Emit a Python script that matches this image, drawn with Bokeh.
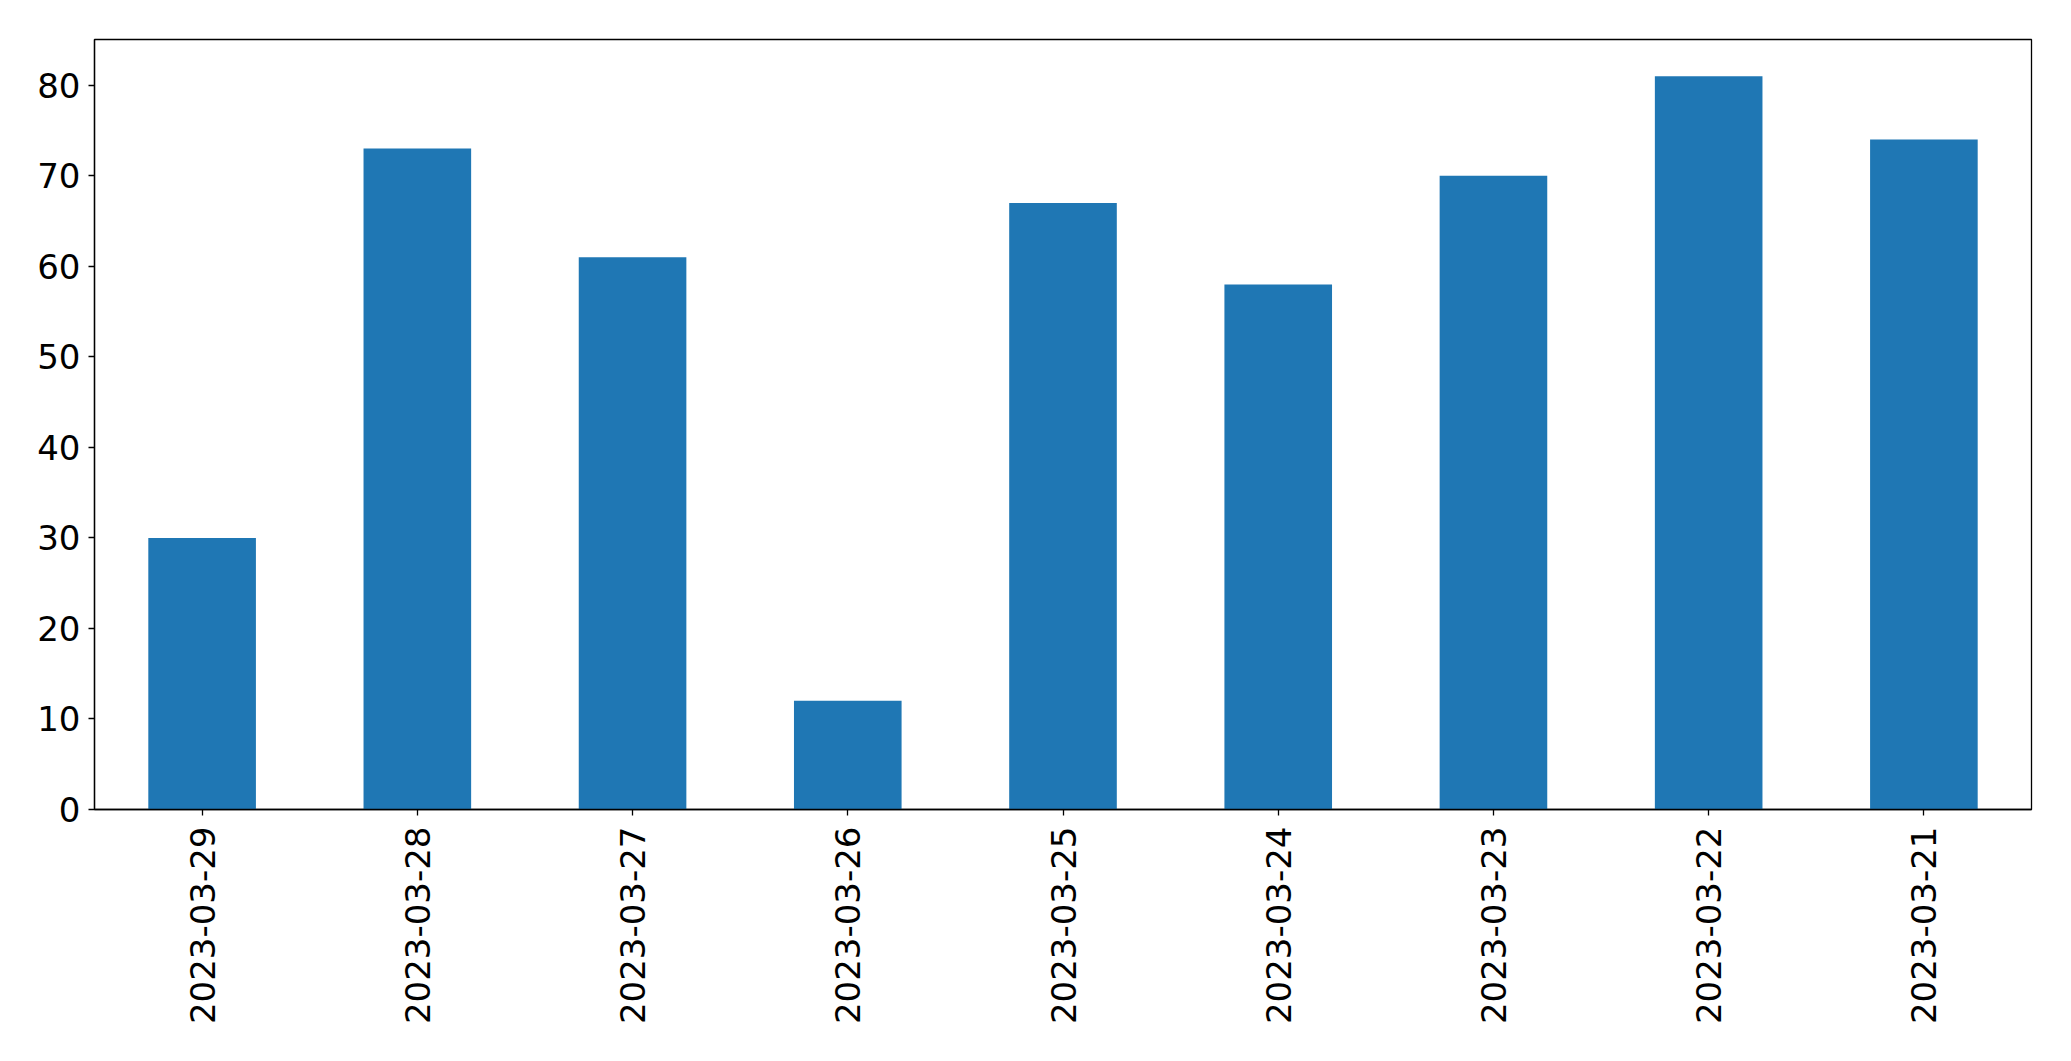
import math
from bokeh.plotting import figure
from bokeh.models import Range1d, FactorRange, FixedTicker, ColumnDataSource
from bokeh.embed import file_html
from bokeh.resources import INLINE

dates = ["2023-03-29", "2023-03-28", "2023-03-27", "2023-03-26", "2023-03-25",
         "2023-03-24", "2023-03-23", "2023-03-22", "2023-03-21"]
values = [30, 73, 61, 12, 67, 58, 70, 81, 74]
y_ticks = [0, 10, 20, 30, 40, 50, 60, 70, 80]

src = ColumnDataSource(dict(x=dates, top=values))

p = figure(
    x_range=FactorRange(factors=dates, range_padding=0),
    y_range=Range1d(0, max(values) * 1.05),
    frame_width=1937, frame_height=770,
    min_border_left=94, min_border_top=39, min_border_right=20, min_border_bottom=220,
    output_backend="svg", toolbar_location=None,
)
p.vbar(x="x", top="top", width=0.5, source=src, color="#1f77b4", line_color=None)

p.xgrid.visible = False
p.ygrid.visible = False
p.outline_line_color = "black"
p.outline_line_width = 1.3
p.outline_line_alpha = 1

for ax in (p.xaxis[0], p.yaxis[0]):
    ax.axis_line_color = "black"
    ax.axis_line_width = 1.3
    ax.major_tick_line_color = "black"
    ax.major_tick_line_width = 1.3
    ax.major_tick_out = 6
    ax.major_tick_in = 0
    ax.minor_tick_line_color = None
    ax.major_label_text_font = "DejaVu Sans"
    ax.major_label_text_font_size = "34px"
    ax.major_label_text_color = "black"

p.yaxis.ticker = FixedTicker(ticks=y_ticks)
p.yaxis.major_label_standoff = 8
p.xaxis.major_label_orientation = math.pi / 2
p.xaxis.major_label_standoff = 11

open("out.html", "w").write(file_html(p, INLINE))
